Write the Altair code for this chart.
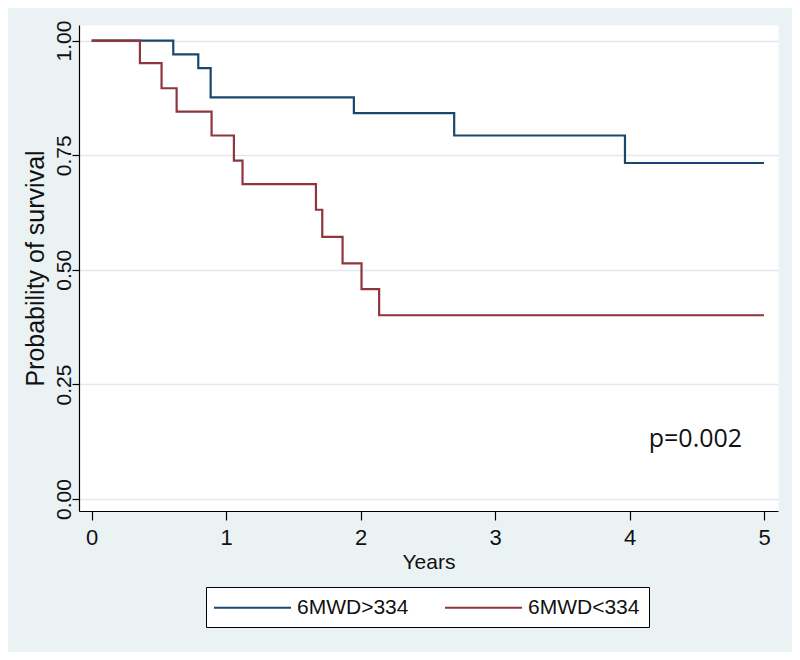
import altair as alt
import pandas as pd

# Kaplan-Meier step points
blue_name = "6MWD>334"
blue_t = [0.0, 0.607, 0.793, 0.885, 1.950, 2.696, 3.966, 5.0]
blue_s = [1.0, 0.970, 0.940, 0.876, 0.842, 0.793, 0.733, 0.733]

red_name = "6MWD<334"
red_t = [0.0, 0.359, 0.520, 0.632, 0.892, 1.058, 1.122, 1.668, 1.715, 1.866, 2.007, 2.138, 5.0]
red_s = [1.0, 0.951, 0.896, 0.845, 0.793, 0.738, 0.687, 0.631, 0.572, 0.514, 0.458, 0.401, 0.401]

x_ticks = [0, 1, 2, 3, 4, 5]
y_ticks = [0.0, 0.25, 0.5, 0.75, 1.0]

annot_text = ["p=0.002"]
annot_x = [4.49]
annot_y = [0.114]

blue_df = pd.DataFrame({"t": blue_t, "s": blue_s, "group": blue_name})
red_df = pd.DataFrame({"t": red_t, "s": red_s, "group": red_name})
annot_df = pd.DataFrame({"x": annot_x, "y": annot_y, "label": annot_text})

REG = "Liberation Sans, Arial, sans-serif"

xscale = alt.Scale(domain=[-0.094, 5.104], nice=False, zero=False)
yscale = alt.Scale(domain=[-0.026, 1.034], nice=False, zero=False)
color_scale = alt.Scale(domain=[blue_name, red_name], range=["#1a476f", "#90353b"])

x_axis = alt.Axis(
    values=x_ticks, format="d", grid=False,
    domainColor="#000", domainWidth=1.2, tickColor="#000", tickWidth=1.2,
    tickSize=9, labelPadding=7, labelFont=REG, labelFontSize=22,
    labelColor="#111", title="Years", titleFont=REG, titleFontSize=21,
    titleFontWeight="normal", titleColor="#111", titleY=57,
    titleBaseline="alphabetic",
)
y_axis = alt.Axis(
    values=y_ticks, format=".2f", grid=True, gridColor="#e1e9ec", gridWidth=1.5,
    domainColor="#000", domainWidth=1.2, tickColor="#000", tickWidth=1.2,
    tickSize=7, labelPadding=2, labelAngle=270, labelAlign="center",
    labelBaseline="alphabetic", labelFont=REG, labelFontSize=21,
    labelColor="#111", title="Probability of survival", titleFont=REG,
    titleFontSize=25, titleFontWeight="normal", titleColor="#111",
    titleAngle=270, titleAlign="center", titleBaseline="alphabetic",
    titleX=-36, titleY=243,
)

legend = alt.Legend(
    title=None, orient="none", legendX=127, legendY=562, direction="horizontal",
    strokeColor="#000", fillColor="white", padding=9,
    symbolType="M-3.85,0H3.85", symbolSize=400, symbolStrokeWidth=2.2,
    symbolOffset=26,
    labelFont=REG, labelFontSize=21, labelColor="#111", labelOffset=33,
    columnPadding=31,
)

def line_layer(df):
    return alt.Chart(df).mark_line(interpolate="step-after", strokeWidth=2.2).encode(
        x=alt.X("t:Q", scale=xscale, axis=x_axis),
        y=alt.Y("s:Q", scale=yscale, axis=y_axis),
        color=alt.Color("group:N", scale=color_scale, legend=legend),
    )

text = alt.Chart(annot_df).mark_text(
    font="Open Sans", fontSize=25, align="center", baseline="alphabetic", color="#111"
).encode(
    x=alt.X("x:Q", scale=xscale),
    y=alt.Y("y:Q", scale=yscale),
    text="label:N",
)

chart = alt.layer(line_layer(blue_df), line_layer(red_df), text).properties(
    width=699, height=486,
    autosize=alt.AutoSizeParams(type="none"),
    padding={"left": 71, "top": 17, "right": 14, "bottom": 141},
    background="#eaf2f3",
).configure_view(fill="white", stroke="transparent")

chart.save("out.html", embed_options={"renderer": "svg", "actions": False})
